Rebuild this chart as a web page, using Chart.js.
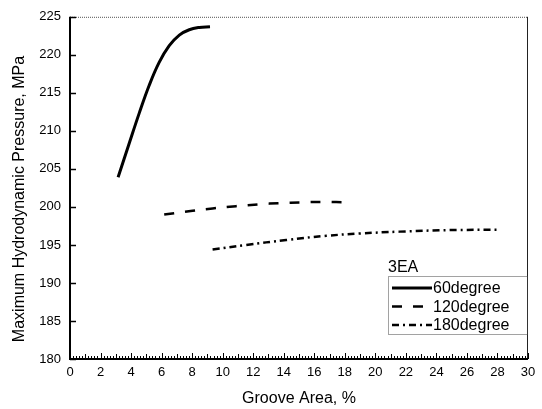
<!DOCTYPE html>
<html>
<head>
<meta charset="utf-8">
<script src="https://cdn.jsdelivr.net/npm/chart.js@4/dist/chart.umd.min.js"></script>
<style>
html,body{margin:0;padding:0;background:#fff;}
#wrap{width:542px;height:409px;position:relative;}
</style>
</head>
<body>
<div id="wrap"><canvas id="c" width="542" height="409"></canvas></div>
<script>
// ---- data ----
const seriesLabels = ['60degree', '120degree', '180degree'];
const legendTitle = '3EA';
const x60  = [3.15, 3.87, 4.53, 5.19, 5.84, 6.50, 7.16, 7.81, 8.47, 9.17];
const y60  = [203.9, 208.3, 212.3, 216.0, 219.0, 221.2, 222.6, 223.3, 223.6, 223.7];
const x120 = [6.17, 8.03, 9.34, 10.88, 12.41, 13.72, 15.15, 16.56, 18.3];
const y120 = [199.0, 199.5, 199.8, 200.1, 200.35, 200.5, 200.6, 200.65, 200.6];
const x180 = [9.34, 11.53, 14.16, 16.79, 18.97, 21.6, 24.88, 28.16];
const y180 = [194.4, 195.0, 195.65, 196.2, 196.5, 196.75, 196.95, 197.0];
const xTickLabels = [0, 2, 4, 6, 8, 10, 12, 14, 16, 18, 20, 22, 24, 26, 28, 30];
const yTickLabels = [180, 185, 190, 195, 200, 205, 210, 215, 220, 225];
const xTitle = 'Groove Area, %';
const yTitle = 'Maximum Hydrodynamic Pressure, MPa';

const pts = (xs, ys) => xs.map((x, i) => ({x: x, y: ys[i]}));
const FONT = "'Liberation Sans', Arial, sans-serif";

const framePlugin = {
  id: 'frame',
  afterDraw(chart) {
    const ctx = chart.ctx, a = chart.chartArea;
    const xs = chart.scales.x, ys = chart.scales.y;
    ctx.save();
    // top border (thin, grey)
    ctx.strokeStyle = '#555';
    ctx.lineWidth = 1;
    ctx.setLineDash([1, 1]);
    ctx.beginPath(); ctx.moveTo(a.left, a.top + 0.5); ctx.lineTo(a.right, a.top + 0.5); ctx.stroke();
    ctx.setLineDash([]);
    // right border
    ctx.strokeStyle = '#222';
    ctx.beginPath(); ctx.moveTo(a.right - 0.5, a.top); ctx.lineTo(a.right - 0.5, a.bottom); ctx.stroke();
    // left & bottom axes
    ctx.strokeStyle = '#000';
    ctx.lineWidth = 2;
    ctx.beginPath(); ctx.moveTo(a.left, a.top); ctx.lineTo(a.left, a.bottom); ctx.lineTo(a.right, a.bottom); ctx.stroke();
    // inward y ticks
    ctx.lineWidth = 1.5;
    yTickLabels.forEach(v => {
      const py = Math.round(ys.getPixelForValue(v)) + 0.5;
      ctx.beginPath(); ctx.moveTo(a.left, py); ctx.lineTo(a.left + 6, py); ctx.stroke();
    });
    // inward x ticks (minor every 0.2, larger every 1)
    ctx.lineWidth = 1;
    for (let i = 0; i <= 150; i++) {
      const v = i * 0.2;
      const px = Math.round(xs.getPixelForValue(v)) + 0.5;
      const len = (i % 10 === 0) ? 6 : (i % 5 === 0 ? 5 : 3);
      ctx.beginPath(); ctx.moveTo(px, a.bottom); ctx.lineTo(px, a.bottom - len); ctx.stroke();
    }
    // y axis title
    ctx.fillStyle = '#000';
    ctx.save();
    ctx.translate(20, 199);
    ctx.rotate(-Math.PI / 2);
    ctx.font = '16px ' + FONT;
    ctx.textAlign = 'center';
    ctx.textBaseline = 'middle';
    ctx.fillText(yTitle, 0, 0);
    ctx.restore();
    // legend
    const bx = 388, by = 276, bw = 139, bh = 58;
    ctx.font = '16px ' + FONT;
    ctx.textBaseline = 'middle';
    ctx.textAlign = 'left';
    ctx.fillText(legendTitle, bx, by - 8);
    ctx.strokeStyle = '#444';
    ctx.lineWidth = 1;
    ctx.setLineDash([1, 1]);
    ctx.strokeRect(bx + 0.5, by + 0.5, bw, bh);
    ctx.setLineDash([]);
    chart.data.datasets.forEach((ds, i) => {
      const ly = by + 12 + i * 18.5;
      ctx.strokeStyle = '#000';
      ctx.lineWidth = ds.borderWidth;
      ctx.setLineDash(ds.borderDash || []);
      ctx.beginPath(); ctx.moveTo(bx + 4, ly); ctx.lineTo(bx + 44, ly); ctx.stroke();
      ctx.setLineDash([]);
      ctx.font = '16px ' + FONT;
      ctx.fillText(ds.label, bx + 45, ly + 1);
    });
    ctx.restore();
  }
};

new Chart(document.getElementById('c'), {
  type: 'line',
  data: {
    datasets: [
      {label: seriesLabels[0], data: pts(x60, y60), borderColor: '#000', borderWidth: 3, pointRadius: 0, tension: 0.4, fill: false},
      {label: seriesLabels[1], data: pts(x120, y120), borderColor: '#000', borderWidth: 2.5, borderDash: [10, 11], pointRadius: 0, tension: 0.4, fill: false},
      {label: seriesLabels[2], data: pts(x180, y180), borderColor: '#000', borderWidth: 2.5, borderDash: [7, 4, 2, 4], pointRadius: 0, tension: 0.4, fill: false}
    ]
  },
  options: {
    responsive: false,
    animation: false,
    layout: {padding: {top: 14, right: 14, left: 0, bottom: 0}},
    plugins: {legend: {display: false}, tooltip: {enabled: false}},
    scales: {
      x: {
        type: 'linear', min: 0, max: 30,
        afterBuildTicks: s => { s.ticks = xTickLabels.map(v => ({value: v})); },
        afterFit: s => { s.height = 50; },
        grid: {display: false, drawTicks: false},
        border: {display: false},
        ticks: {color: '#000', font: {family: FONT, size: 13}, padding: 6, maxRotation: 0},
        title: {display: true, text: xTitle, color: '#000', font: {family: FONT, size: 16}, padding: {top: 4, bottom: 1}}
      },
      y: {
        type: 'linear', min: 180, max: 225,
        afterBuildTicks: s => { s.ticks = yTickLabels.map(v => ({value: v})); },
        afterFit: s => { s.width = 70; },
        grid: {display: false, drawTicks: false},
        border: {display: false},
        ticks: {color: '#000', font: {family: FONT, size: 13}, padding: 9},
        title: {display: false, text: yTitle}
      }
    }
  },
  plugins: [framePlugin]
});
</script>
</body>
</html>
